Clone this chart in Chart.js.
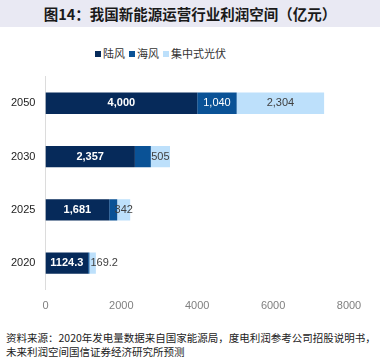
<!DOCTYPE html>
<html>
<head>
<meta charset="utf-8">
<script src="https://cdn.jsdelivr.net/npm/chart.js@4"></script>
<style>
  html, body { margin: 0; padding: 0; background: #fff; }
  #wrap { position: relative; width: 380px; height: 361px; overflow: hidden; font-family: "Noto Sans CJK SC", sans-serif; }
  #title { position: absolute; left: 0; top: 0; width: 380px; height: 27px; line-height: 27px; background: #e9e9f3;
           text-align: center; font-size: 14.5px; font-weight: bold; color: #1a1a1a; }
  #legend { position: absolute; left: 95px; top: 45px; height: 16px; font-size: 11px; color: #333; white-space: nowrap; }
  #legend span.item { display: inline-block; margin-right: 4px; }
  #legend span.box { display: inline-block; width: 6px; height: 6px; margin-right: 2px; vertical-align: 1px; }
  #chartBox { position: absolute; left: 0; top: 60px; width: 380px; height: 265px; }
  #source { position: absolute; left: 6px; top: 331px; font-size: 10.5px; line-height: 14px; color: #222; white-space: nowrap; }
</style>
</head>
<body>
<div id="wrap">
  <div id="title">图14：我国新能源运营行业利润空间（亿元）</div>
  <div id="legend"></div>
  <div id="chartBox"><canvas id="profitChart" width="380" height="265"></canvas></div>
  <div id="source">资料来源：2020年发电量数据来自国家能源局，度电利润参考公司招股说明书，<br>未来利润空间国信证券经济研究所预测</div>
</div>
<script>
    // 数据
    const years = ['2050', '2030', '2025', '2020'];
    const seriesNames = ['陆风', '海风', '集中式光伏'];
    const onshoreWind = [4000, 2357, 1681, 1124.3];
    const offshoreWind = [1040, 420, 210, 35];
    const centralizedPv = [2304, 505, 342, 169.2];
    const xTicks = [0, 2000, 4000, 6000, 8000];

    // 哪些数值标签显示 (海风只显示2050)
    const showOnshore = [true, true, true, true];
    const showOffshore = [true, false, false, false];
    const showPv = [true, true, true, true];

    const colors = ['#062a5a', '#0a5296', '#bde0fb'];
    const labelColors = ['#ffffff', '#ffffff', '#404040'];
    const labelWeights = ['bold', 'normal', 'normal'];

    // 图例
    const legendEl = document.getElementById('legend');
    seriesNames.forEach((name, i) => {
        const item = document.createElement('span');
        item.className = 'item';
        item.innerHTML = '<span class="box" style="background:' + colors[i] + '"></span>' + name;
        legendEl.appendChild(item);
    });

    function fmt(v) {
        return Number.isInteger(v) ? v.toLocaleString('en-US') : String(v);
    }

    // 数值标签插件
    const barLabels = {
        id: 'barLabels',
        afterDatasetsDraw(chart) {
            const ctx = chart.ctx;
            ctx.save();
            ctx.textBaseline = 'middle';
            chart.data.datasets.forEach((ds, di) => {
                const meta = chart.getDatasetMeta(di);
                meta.data.forEach((bar, i) => {
                    if (!ds.showLabels[i]) return;
                    const text = fmt(ds.data[i]);
                    ctx.font = labelWeights[di] + ' 11px "Liberation Sans", Arial, sans-serif';
                    ctx.fillStyle = labelColors[di];
                    const w = ctx.measureText(text).width;
                    const segW = Math.abs(bar.x - bar.base);
                    if (w > segW * 2) {
                        ctx.textAlign = 'left';
                        ctx.fillText(text, Math.min(bar.x, bar.base) + 1, bar.y);
                    } else {
                        ctx.textAlign = 'center';
                        ctx.fillText(text, (bar.x + bar.base) / 2, bar.y);
                    }
                });
            });
            ctx.restore();
        }
    };

    const ctx = document.getElementById('profitChart').getContext('2d');
    new Chart(ctx, {
        type: 'bar',
        data: {
            labels: years,
            datasets: [
                { label: seriesNames[0], data: onshoreWind, backgroundColor: colors[0], showLabels: showOnshore },
                { label: seriesNames[1], data: offshoreWind, backgroundColor: colors[1], showLabels: showOffshore },
                { label: seriesNames[2], data: centralizedPv, backgroundColor: colors[2], showLabels: showPv },
            ],
        },
        options: {
            indexAxis: 'y',
            responsive: false,
            animation: false,
            barPercentage: 0.8,
            categoryPercentage: 0.5,
            layout: { padding: { left: 1, right: 31, top: 2, bottom: 2 } },
            plugins: {
                legend: { display: false },
                tooltip: { enabled: false },
            },
            scales: {
                x: {
                    stacked: true,
                    min: 0,
                    max: 8000,
                    afterBuildTicks: (axis) => { axis.ticks = xTicks.map(v => ({ value: v })); },
                    grid: { display: false, drawTicks: false },
                    border: { display: false },
                    ticks: {
                        color: '#808080',
                        padding: 10,
                        font: { family: '"Liberation Sans", Arial, sans-serif', size: 11 },
                        maxRotation: 0,
                        callback: (v) => String(v),
                    },
                },
                y: {
                    stacked: true,
                    grid: { display: false, drawTicks: false },
                    border: { display: true, color: '#dcdcdc', width: 1 },
                    ticks: {
                        color: '#222222',
                        padding: 10,
                        font: { family: '"Liberation Sans", Arial, sans-serif', size: 11 },
                    },
                },
            },
        },
        plugins: [barLabels],
    });
</script>
</body>
</html>
